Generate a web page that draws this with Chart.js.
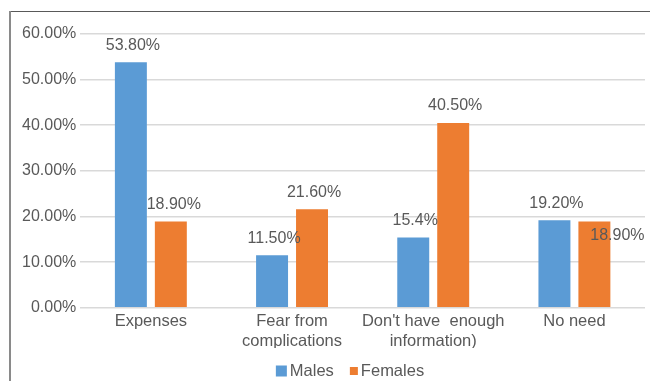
<!DOCTYPE html>
<html>
<head>
<meta charset="utf-8">
<script src="https://cdn.jsdelivr.net/npm/chart.js@4/dist/chart.umd.min.js"></script>
<style>
  html, body { margin: 0; padding: 0; background: #fff; }
  #wrap { width: 650px; height: 381px; position: relative; }
</style>
</head>
<body>
<div id="wrap"><canvas id="barChart"></canvas></div>
<script>
const categories = ["Expenses", ["Fear from", "complications"], ["Don't have  enough", "information)"], "No need"];
const males = [53.8, 11.5, 15.4, 19.2];
const females = [18.9, 21.6, 40.5, 18.9];
const maleLabels = ["53.80%", "11.50%", "15.4%", "19.20%"];
const femaleLabels = ["18.90%", "21.60%", "40.50%", "18.90%"];
const yTicks = [0, 10, 20, 30, 40, 50, 60];

// nudges for the value labels that Excel placed off-centre
const labelNudge = [
  [[0, 0], [0, 0], [0, 0], [0, 0]],
  [[1, 0], [0, 0], [0, 0], [21, 31]]
];

const textColor = "#595959";
const fontFamily = "'Liberation Sans', Arial, sans-serif";

const frame = {
  id: "frame",
  beforeDraw(chart) {
    const c = chart.ctx;
    c.save();
    c.fillStyle = "#fff";
    c.fillRect(0, 0, chart.width, chart.height);
    c.strokeStyle = "#595959";
    c.lineWidth = 1;
    c.beginPath();
    c.moveTo(10, 11.5);
    c.lineTo(chart.width, 11.5);
    c.stroke();
    c.strokeStyle = "#8a8a8a";
    c.lineWidth = 2;
    c.beginPath();
    c.moveTo(10, 11);
    c.lineTo(10, chart.height);
    c.stroke();
    c.restore();
  }
};

const valueLabels = {
  id: "valueLabels",
  afterDatasetsDraw(chart) {
    const c = chart.ctx;
    const texts = [maleLabels, femaleLabels];
    c.save();
    c.font = "16px " + fontFamily;
    c.fillStyle = textColor;
    c.textAlign = "center";
    c.textBaseline = "middle";
    chart.data.datasets.forEach((ds, i) => {
      chart.getDatasetMeta(i).data.forEach((bar, j) => {
        const n = labelNudge[i][j];
        c.fillText(texts[i][j], bar.x + 2 + n[0], bar.y - 17 + n[1]);
      });
    });
    c.restore();
  }
};

// Excel-style legend under the axis labels
const bottomLegend = {
  id: "bottomLegend",
  afterDraw(chart) {
    const c = chart.ctx;
    const ds = chart.data.datasets;
    const boxSizes = [11, 8];
    c.save();
    c.font = "16.5px " + fontFamily;
    c.textBaseline = "middle";
    const widths = ds.map(d => c.measureText(d.label).width);
    const total = widths.reduce((a, w, i) => a + boxSizes[i] + 3 + w, 0) + 16;
    let x = 350 - total / 2;
    const y = 371;
    ds.forEach((d, i) => {
      const s = boxSizes[i];
      c.fillStyle = d.backgroundColor;
      c.fillRect(x, y - s / 2, s, s);
      x += s + 3;
      c.fillStyle = textColor;
      c.fillText(d.label, x, y);
      x += widths[i] + 16;
    });
    c.restore();
  }
};

const ctx = document.getElementById("barChart").getContext("2d");
new Chart(ctx, {
  type: "bar",
  data: {
    labels: categories,
    datasets: [
      {
        label: "Males",
        data: males,
        backgroundColor: "#5B9BD5",
        categoryPercentage: 0.566,
        barPercentage: 0.8
      },
      {
        label: "Females",
        data: females,
        backgroundColor: "#ED7D31",
        categoryPercentage: 0.566,
        barPercentage: 0.8
      }
    ]
  },
  options: {
    responsive: true,
    maintainAspectRatio: false,
    animation: false,
    layout: { padding: { left: 18, right: 5, top: 34, bottom: 33 } },
    plugins: {
      legend: { display: false },
      tooltip: { enabled: false }
    },
    scales: {
      x: {
        grid: { display: false },
        border: { display: false },
        ticks: {
          color: textColor,
          font: { size: 16.5, family: fontFamily, lineHeight: 1.22 },
          padding: -4,
          maxRotation: 0,
          autoSkip: false
        }
      },
      y: {
        min: 0,
        max: 60,
        afterBuildTicks(axis) {
          axis.ticks = yTicks.map(v => ({ value: v }));
        },
        grid: { color: "#D9D9D9", lineWidth: 1.5, drawTicks: false },
        border: { display: false },
        ticks: {
          color: textColor,
          font: { size: 16, family: fontFamily },
          padding: 4,
          callback: v => v.toFixed(2) + "%"
        }
      }
    }
  },
  plugins: [frame, valueLabels, bottomLegend]
});
</script>
</body>
</html>
